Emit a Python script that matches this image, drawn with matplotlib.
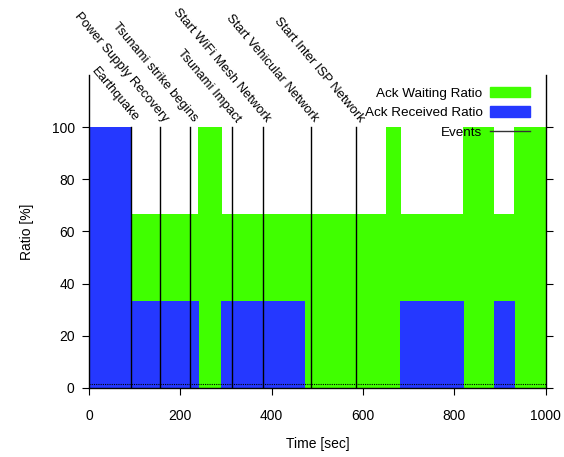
import matplotlib
matplotlib.use("Agg")
import matplotlib.pyplot as plt
from matplotlib.patches import Patch
from matplotlib.lines import Line2D

plt.rcParams['font.family'] = ['Liberation Sans', 'DejaVu Sans']

# Step data (time breakpoints, value on each interval)
wait_t = [0, 92, 238, 292, 650, 683, 818, 886, 930, 1000]
wait_v = [100, 66.7, 100, 66.7, 100, 66.7, 100, 66.7, 100]
recv_t = [0, 92, 240, 290, 472, 682, 820, 886, 932, 1000]
recv_v = [100, 33.3, 0, 33.3, 0, 33.3, 0, 33.3, 0]

event_t = [92, 156, 221, 313, 380, 485, 585]
event_labels = ["Earthquake", "Power Supply Recovery", "Tsunami strike begins",
                "Tsunami Impact", "Start WiFi Mesh Network",
                "Start Vehicular Network", "Start Inter ISP Network"]
baseline_level = 1.5

x_ticks = [0, 200, 400, 600, 800, 1000]
y_ticks = [0, 20, 40, 60, 80, 100]

green = '#40ff00'
blue = '#2538ff'
fs = 10

fig = plt.figure(figsize=(5.64, 4.57), dpi=100)
ax = fig.add_axes([0.1578, 0.151, 0.8098, 0.685])

ax.fill_between(wait_t, wait_v + [wait_v[-1]], step='post', color=green, lw=0)
ax.fill_between(recv_t, recv_v + [recv_v[-1]], step='post', color=blue, lw=0)

ax.axhline(baseline_level, color='black', lw=0.8, ls=(0, (1, 1)))

for t, lab in zip(event_t, event_labels):
    ax.plot([t, t], [0, 100], color='black', lw=1)
    ax.text(t + 2.5, 101.0, lab, rotation=-50, ha='right', va='bottom',
            rotation_mode='anchor', fontsize=9.4)

ax.set_xlim(0, 1000)
ax.set_ylim(0, 120)
ax.set_xticks(x_ticks)
ax.set_yticks(y_ticks)
ax.spines['top'].set_visible(False)
for s in ['left', 'bottom', 'right']:
    ax.spines[s].set_linewidth(1)
ax.tick_params(direction='out', length=4.8, labelsize=fs, right=True, top=False)
ax.tick_params(axis='x', pad=10.5)
ax.tick_params(axis='y', pad=5.5)
ax.set_xlabel('Time [sec]', fontsize=fs, labelpad=10)
ax.set_ylabel('Ratio [%]', fontsize=fs, labelpad=13)

handles = [Patch(color=green), Patch(color=blue),
           Line2D([], [], color='#333333', lw=1)]
labels = ['Ack Waiting Ratio', 'Ack Received Ratio', 'Events']
ax.legend(handles, labels, loc='upper right', markerfirst=False, frameon=False,
          fontsize=9.7, handlelength=3.0, handleheight=0.82, labelspacing=0.5,
          handletextpad=0.52, borderpad=0, borderaxespad=0,
          bbox_to_anchor=(0.9656, 0.962))

fig.savefig('out.png', dpi=100)
